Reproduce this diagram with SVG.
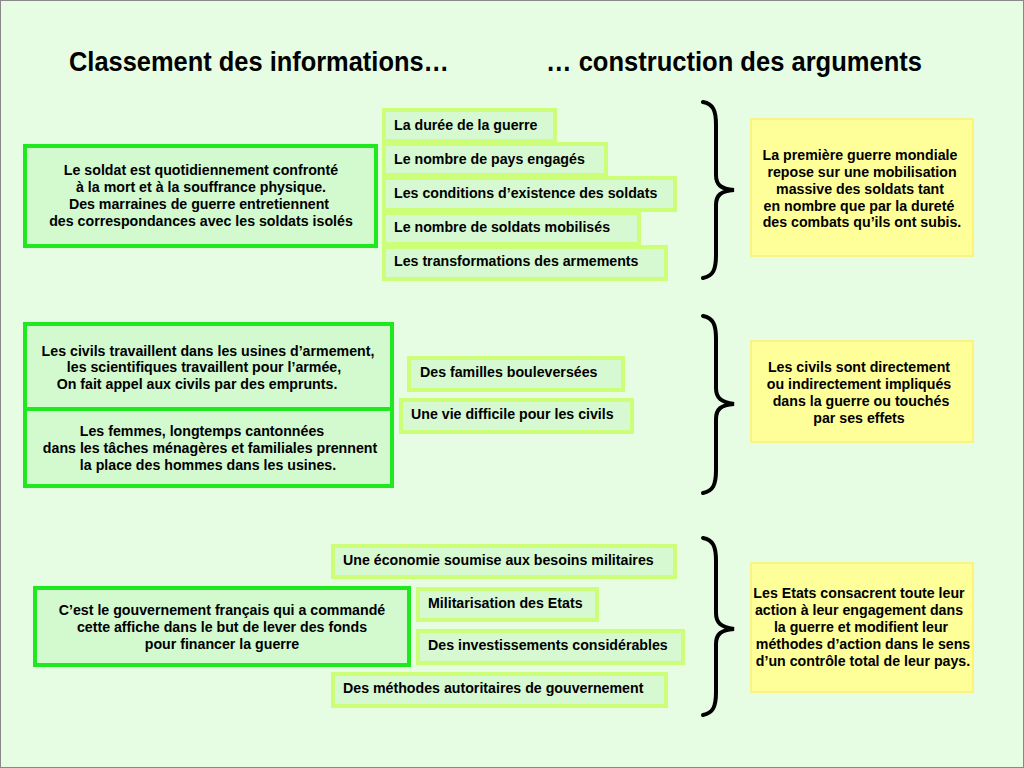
<svg xmlns="http://www.w3.org/2000/svg" width="1024" height="768" viewBox="0 0 1024 768">
<style>
text{font-family:"Liberation Sans",Arial,sans-serif;font-weight:bold;fill:#000}
.t{font-size:27px}
.b{font-size:14.2px}
.c{text-anchor:middle}
.big{fill:#d3f9cf;stroke:#1ee81e;stroke-width:4}
.sm{fill:#d6f9d2;stroke:#ccff77;stroke-width:4}
.ye{fill:#ffff99;stroke:#fff066;stroke-width:1.5}
.br{fill:none;stroke:#000;stroke-width:4;stroke-linecap:round}
</style>
<rect x="0" y="0" width="1024" height="768" fill="#e6fde4"/>
<rect x="0.5" y="0.5" width="1023" height="767" fill="none" stroke="#888" stroke-width="1"/>
<g id="titles">
<text class="t" x="69" y="71" textLength="380" lengthAdjust="spacingAndGlyphs">Classement des informations…</text>
<text class="t" x="546" y="71" textLength="376" lengthAdjust="spacingAndGlyphs">… construction des arguments</text>
</g>
<g id="connectors">
<path class="br" d="M703,102 C713,104 716,110 716,125 L716,175 C716,185 721,189 734,190 C721,191 716,195 716,205 L716,255 C716,270 713,276 703,278"/>
<path class="br" d="M703,316 C713,318 716,324 716,339 L716,388 C716,398 721,402 734,404 C721,405 716,409 716,419 L716,470 C716,485 713,491 703,493"/>
<path class="br" d="M703,538 C713,540 716,546 716,561 L716,613 C716,623 721,627 734,629 C721,630 716,634 716,644 L716,692 C716,707 713,713 703,715"/>
</g>
<g id="n1-source">
<rect class="big" x="25" y="146" width="351" height="100"/>
<text class="b c" x="201" y="175">Le soldat est quotidiennement confronté</text>
<text class="b c" x="201" y="192">à la mort et à la souffrance physique.</text>
<text class="b c" x="199" y="209">Des marraines de guerre entretiennent</text>
<text class="b c" x="201" y="226">des correspondances avec les soldats isolés</text>
</g>
<g id="n1-a"><rect class="sm" x="384" y="110" width="171" height="31"/><text class="b" x="394" y="130">La durée de la guerre</text></g>
<g id="n1-b"><rect class="sm" x="384" y="144" width="222" height="31"/><text class="b" x="394" y="164">Le nombre de pays engagés</text></g>
<g id="n1-c"><rect class="sm" x="384" y="178" width="291" height="32"/><text class="b" x="394" y="198">Les conditions d’existence des soldats</text></g>
<g id="n1-d"><rect class="sm" x="384" y="213" width="255" height="31"/><text class="b" x="394" y="232">Le nombre de soldats mobilisés</text></g>
<g id="n1-e"><rect class="sm" x="384" y="247" width="282" height="32"/><text class="b" x="394" y="266">Les transformations des armements</text></g>
<g id="n1-result">
<rect class="ye" x="751" y="119" width="222" height="137"/>
<text class="b c" x="860" y="160">La première guerre mondiale</text>
<text class="b c" x="862" y="177">repose sur une mobilisation</text>
<text class="b c" x="860" y="194">massive des soldats tant</text>
<text class="b c" x="859" y="211">en nombre que par la dureté</text>
<text class="b c" x="862" y="227">des combats qu’ils ont subis.</text>
</g>
<g id="n2-source-a">
<rect class="big" x="25" y="324" width="367" height="85"/>
<text class="b c" x="208" y="356">Les civils travaillent dans les usines d’armement,</text>
<text class="b c" x="204" y="372">les scientifiques travaillent pour l’armée,</text>
<text class="b c" x="197" y="389">On fait appel aux civils par des emprunts.</text>
</g>
<g id="n2-source-b">
<rect class="big" x="25" y="409" width="367" height="77"/>
<text class="b c" x="202" y="436">Les femmes, longtemps cantonnées</text>
<text class="b c" x="210" y="453">dans les tâches ménagères et familiales prennent</text>
<text class="b c" x="208" y="470">la place des hommes dans les usines.</text>
</g>
<g id="n2-a"><rect class="sm" x="409" y="358" width="214" height="32"/><text class="b" x="420" y="377">Des familles bouleversées</text></g>
<g id="n2-b"><rect class="sm" x="401" y="400" width="231" height="32"/><text class="b" x="411" y="419">Une vie difficile pour les civils</text></g>
<g id="n2-result">
<rect class="ye" x="751" y="341" width="222" height="101"/>
<text class="b c" x="859" y="372">Les civils sont directement</text>
<text class="b c" x="859" y="389">ou indirectement impliqués</text>
<text class="b c" x="861" y="406">dans la guerre ou touchés</text>
<text class="b c" x="859" y="423">par ses effets</text>
</g>
<g id="n3-source">
<rect class="big" x="35" y="588" width="374" height="77"/>
<text class="b c" x="222" y="615">C’est le gouvernement français qui a commandé</text>
<text class="b c" x="222" y="632">cette affiche dans le but de lever des fonds</text>
<text class="b c" x="222" y="649">pour financer la guerre</text>
</g>
<g id="n3-a"><rect class="sm" x="333" y="546" width="342" height="31"/><text class="b" x="343" y="565">Une économie soumise aux besoins militaires</text></g>
<g id="n3-b"><rect class="sm" x="418" y="589" width="179" height="31"/><text class="b" x="428" y="608">Militarisation des Etats</text></g>
<g id="n3-c"><rect class="sm" x="418" y="631" width="265" height="32"/><text class="b" x="428" y="650">Des investissements considérables</text></g>
<g id="n3-d"><rect class="sm" x="333" y="674" width="333" height="32"/><text class="b" x="343" y="693">Des méthodes autoritaires de gouvernement</text></g>
<g id="n3-result">
<rect class="ye" x="751" y="563" width="222" height="129"/>
<text class="b c" x="859" y="598">Les Etats consacrent toute leur</text>
<text class="b c" x="859" y="615">action à leur engagement dans</text>
<text class="b c" x="861" y="632">la guerre et modifient leur</text>
<text class="b c" x="863" y="649">méthodes d’action dans le sens</text>
<text class="b c" x="863" y="666">d’un contrôle total de leur pays.</text>
</g>
</svg>
